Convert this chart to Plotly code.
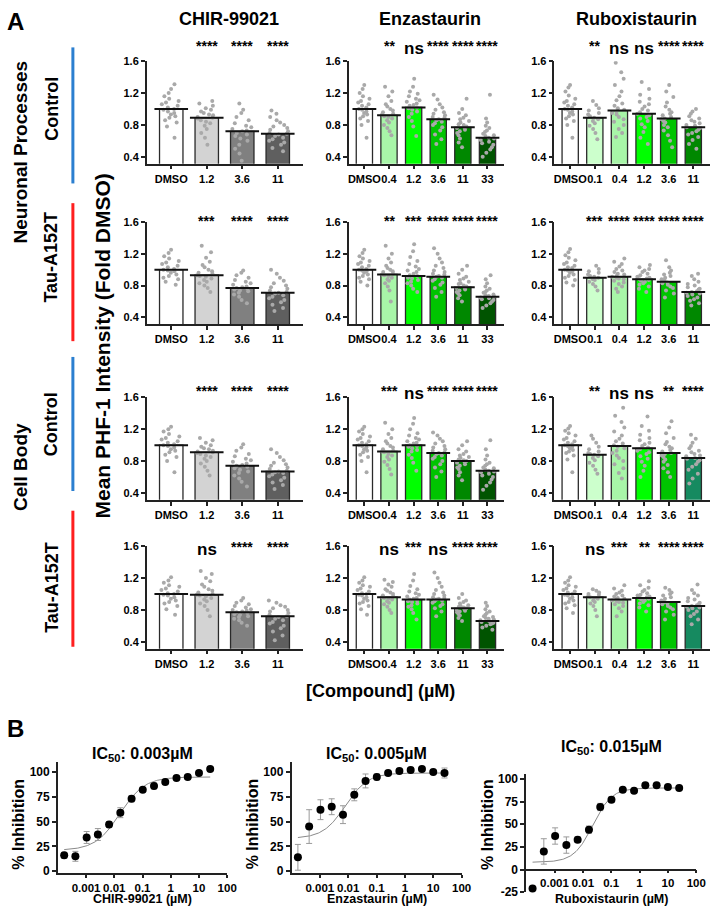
import numpy as np
import plotly.graph_objects as go

W, H = 722, 914
FONT = "Liberation Sans"

# ---------------- Panel A data ----------------
compounds = ["CHIR-99021", "Enzastaurin", "Ruboxistaurin"]
dose_labels = [
    ["DMSO", "1.2", "3.6", "11"],
    ["DMSO", "0.4", "1.2", "3.6", "11", "33"],
    ["DMSO", "0.1", "0.4", "1.2", "3.6", "11"],
]
row_labels = ["Control", "Tau-A152T", "Control", "Tau-A152T"]

# bar heights (mean, fold DMSO): one list per compound, per row
mean_np_ctrl = [[1.0, 0.89, 0.72, 0.69],
                [1.0, 0.92, 1.02, 0.87, 0.77, 0.64],
                [1.0, 0.89, 0.98, 0.94, 0.88, 0.77]]
mean_np_tau = [[1.0, 0.93, 0.77, 0.71],
               [1.0, 0.94, 0.92, 0.91, 0.78, 0.66],
               [1.0, 0.90, 0.91, 0.88, 0.85, 0.72]]
mean_cb_ctrl = [[1.0, 0.91, 0.74, 0.67],
                [1.0, 0.92, 1.0, 0.90, 0.80, 0.68],
                [1.0, 0.88, 0.99, 0.96, 0.90, 0.84]]
mean_cb_tau = [[1.0, 0.99, 0.77, 0.72],
               [1.0, 0.96, 0.93, 0.93, 0.82, 0.66],
               [1.0, 0.96, 0.93, 0.95, 0.90, 0.85]]

# significance vs DMSO
sig_np_ctrl = [["****", "****", "****"],
               ["**", "ns", "****", "****", "****"],
               ["**", "ns", "ns", "****", "****"]]
sig_np_tau = [["***", "****", "****"],
              ["**", "***", "****", "****", "****"],
              ["***", "****", "****", "****", "****"]]
sig_cb_ctrl = [["****", "****", "****"],
               ["***", "ns", "****", "****", "****"],
               ["**", "ns", "ns", "**", "****"]]
sig_cb_tau = [["ns", "****", "****"],
              ["ns", "***", "ns", "****", "****"],
              ["ns", "***", "**", "****", "****"]]

# individual well values (estimated from the dot clouds)
pts_np_ctrl = [
    [[0.64, 0.78, 0.83, 0.86, 0.89, 0.91, 0.93, 0.95, 0.97, 0.99, 1.0, 1.02, 1.04, 1.06, 1.08, 1.1, 1.13, 1.16, 1.2, 1.25, 1.31],
     [0.55, 0.64, 0.7, 0.75, 0.79, 0.82, 0.84, 0.86, 0.88, 0.89, 0.9, 0.92, 0.93, 0.95, 0.97, 0.99, 1.01, 1.04, 1.07, 1.1],
     [0.35, 0.44, 0.5, 0.55, 0.6, 0.63, 0.66, 0.68, 0.7, 0.72, 0.73, 0.75, 0.77, 0.79, 0.82, 0.86, 0.9, 0.95, 0.99, 1.07],
     [0.47, 0.51, 0.55, 0.58, 0.6, 0.62, 0.64, 0.66, 0.68, 0.69, 0.7, 0.72, 0.74, 0.76, 0.78, 0.8, 0.83, 0.86, 0.9, 0.94, 0.98]],
    [[0.64, 0.8, 0.85, 0.88, 0.91, 0.93, 0.95, 0.97, 0.99, 1.0, 1.02, 1.04, 1.06, 1.08, 1.1, 1.13, 1.16, 1.2, 1.25, 1.3],
     [0.67, 0.72, 0.76, 0.8, 0.83, 0.86, 0.88, 0.9, 0.91, 0.93, 0.94, 0.96, 0.98, 1.0, 1.03, 1.06, 1.1, 1.16, 1.22, 1.28],
     [0.66, 0.78, 0.85, 0.9, 0.94, 0.97, 0.99, 1.01, 1.02, 1.04, 1.05, 1.07, 1.09, 1.11, 1.13, 1.16, 1.19, 1.22, 1.28, 1.38],
     [0.56, 0.62, 0.68, 0.73, 0.77, 0.8, 0.82, 0.84, 0.86, 0.87, 0.89, 0.9, 0.92, 0.94, 0.96, 0.99, 1.02, 1.06, 1.12, 1.18],
     [0.52, 0.58, 0.63, 0.67, 0.7, 0.72, 0.74, 0.76, 0.77, 0.78, 0.8, 0.81, 0.83, 0.85, 0.87, 0.89, 0.92, 0.95, 1.0, 1.13],
     [0.4, 0.45, 0.49, 0.52, 0.55, 0.57, 0.59, 0.61, 0.63, 0.64, 0.66, 0.67, 0.69, 0.71, 0.73, 0.76, 0.79, 0.83, 0.88, 1.18]],
    [[0.64, 0.8, 0.85, 0.88, 0.91, 0.93, 0.95, 0.97, 0.99, 1.0, 1.02, 1.04, 1.06, 1.08, 1.1, 1.13, 1.17, 1.22, 1.27, 1.3],
     [0.62, 0.7, 0.75, 0.79, 0.82, 0.85, 0.87, 0.89, 0.91, 0.93, 0.95, 0.98, 1.01, 1.05, 1.1],
     [0.65, 0.7, 0.75, 0.8, 0.84, 0.87, 0.9, 0.93, 0.95, 0.97, 0.99, 1.01, 1.04, 1.07, 1.11, 1.16, 1.22, 1.3, 1.38, 1.46, 1.58],
     [0.56, 0.64, 0.71, 0.77, 0.81, 0.85, 0.88, 0.9, 0.92, 0.94, 0.96, 0.98, 1.0, 1.03, 1.06, 1.09, 1.13, 1.18, 1.25, 1.34],
     [0.52, 0.6, 0.67, 0.73, 0.77, 0.8, 0.83, 0.85, 0.87, 0.88, 0.9, 0.92, 0.94, 0.96, 0.99, 1.03, 1.08, 1.15, 1.22, 1.3],
     [0.5, 0.56, 0.61, 0.65, 0.68, 0.7, 0.72, 0.74, 0.76, 0.77, 0.79, 0.8, 0.82, 0.84, 0.86, 0.88, 0.91, 0.94, 0.97, 1.0]],
]
pts_np_tau = [
    [[0.81, 0.85, 0.88, 0.9, 0.92, 0.94, 0.96, 0.98, 0.99, 1.0, 1.01, 1.03, 1.05, 1.07, 1.09, 1.11, 1.14, 1.17, 1.21, 1.25],
     [0.72, 0.77, 0.8, 0.83, 0.85, 0.87, 0.89, 0.91, 0.92, 0.93, 0.95, 0.96, 0.98, 1.0, 1.03, 1.06, 1.1, 1.15, 1.22, 1.3],
     [0.58, 0.62, 0.66, 0.69, 0.71, 0.73, 0.74, 0.75, 0.76, 0.77, 0.78, 0.79, 0.81, 0.83, 0.85, 0.87, 0.9, 0.93, 0.96, 0.99],
     [0.48, 0.52, 0.56, 0.59, 0.62, 0.64, 0.66, 0.68, 0.7, 0.71, 0.72, 0.74, 0.76, 0.78, 0.8, 0.83, 0.86, 0.9, 0.95, 1.0]],
    [[0.8, 0.85, 0.88, 0.9, 0.92, 0.94, 0.96, 0.98, 0.99, 1.0, 1.01, 1.03, 1.05, 1.07, 1.09, 1.11, 1.14, 1.17, 1.21, 1.25],
     [0.6, 0.74, 0.79, 0.83, 0.86, 0.88, 0.9, 0.92, 0.93, 0.94, 0.95, 0.97, 0.98, 1.0, 1.02, 1.05, 1.09, 1.14, 1.2, 1.3],
     [0.72, 0.76, 0.8, 0.83, 0.85, 0.87, 0.89, 0.9, 0.92, 0.93, 0.95, 0.97, 0.99, 1.01, 1.04, 1.07, 1.11, 1.16, 1.23, 1.32],
     [0.66, 0.72, 0.77, 0.81, 0.84, 0.86, 0.88, 0.9, 0.91, 0.92, 0.94, 0.95, 0.97, 0.99, 1.02, 1.05, 1.09, 1.14, 1.2, 1.27],
     [0.6, 0.64, 0.68, 0.7, 0.72, 0.74, 0.75, 0.77, 0.78, 0.79, 0.8, 0.82, 0.83, 0.85, 0.87, 0.89, 0.91, 0.95, 1.0, 1.05],
     [0.52, 0.55, 0.58, 0.6, 0.62, 0.63, 0.64, 0.65, 0.66, 0.67, 0.68, 0.69, 0.71, 0.72, 0.74, 0.76, 0.79, 0.83, 0.88, 0.93]],
    [[0.8, 0.84, 0.87, 0.9, 0.92, 0.94, 0.96, 0.98, 0.99, 1.0, 1.02, 1.03, 1.05, 1.07, 1.09, 1.12, 1.15, 1.18, 1.22, 1.26],
     [0.74, 0.79, 0.82, 0.85, 0.87, 0.88, 0.9, 0.91, 0.92, 0.94, 0.96, 0.98, 1.01, 1.05],
     [0.72, 0.76, 0.79, 0.82, 0.84, 0.86, 0.88, 0.89, 0.9, 0.91, 0.92, 0.94, 0.95, 0.97, 0.99, 1.01, 1.04, 1.07, 1.1, 1.14],
     [0.72, 0.76, 0.79, 0.81, 0.83, 0.85, 0.86, 0.87, 0.88, 0.89, 0.9, 0.91, 0.93, 0.95, 0.97, 0.99, 1.01, 1.03, 1.06],
     [0.65, 0.7, 0.74, 0.77, 0.79, 0.81, 0.83, 0.84, 0.85, 0.86, 0.87, 0.88, 0.9, 0.92, 0.94, 0.96, 0.99, 1.03, 1.12],
     [0.55, 0.58, 0.61, 0.63, 0.65, 0.67, 0.69, 0.7, 0.71, 0.72, 0.73, 0.75, 0.76, 0.78, 0.8, 0.82, 0.85, 0.88, 0.92, 0.95]],
]
pts_cb_ctrl = [
    [[0.66, 0.8, 0.85, 0.88, 0.91, 0.93, 0.95, 0.97, 0.99, 1.0, 1.01, 1.03, 1.05, 1.07, 1.09, 1.11, 1.14, 1.17, 1.2, 1.23],
     [0.62, 0.68, 0.73, 0.77, 0.8, 0.83, 0.85, 0.87, 0.89, 0.9, 0.91, 0.92, 0.93, 0.95, 0.96, 0.98, 1.0, 1.03, 1.06, 1.09],
     [0.48, 0.54, 0.58, 0.62, 0.65, 0.67, 0.69, 0.71, 0.73, 0.74, 0.75, 0.77, 0.79, 0.81, 0.83, 0.86, 0.89, 0.93, 0.97, 1.01],
     [0.45, 0.5, 0.53, 0.56, 0.59, 0.61, 0.63, 0.65, 0.66, 0.67, 0.68, 0.7, 0.72, 0.74, 0.76, 0.78, 0.81, 0.85, 0.9, 0.95]],
    [[0.66, 0.8, 0.85, 0.88, 0.91, 0.93, 0.95, 0.97, 0.99, 1.0, 1.01, 1.03, 1.05, 1.07, 1.09, 1.11, 1.14, 1.17, 1.2, 1.23],
     [0.63, 0.7, 0.75, 0.79, 0.82, 0.85, 0.87, 0.89, 0.91, 0.92, 0.93, 0.95, 0.97, 0.99, 1.02, 1.05, 1.09, 1.14, 1.2, 1.28],
     [0.68, 0.78, 0.84, 0.88, 0.92, 0.94, 0.96, 0.98, 0.99, 1.0, 1.02, 1.03, 1.05, 1.07, 1.09, 1.12, 1.15, 1.2, 1.27, 1.34],
     [0.6, 0.67, 0.72, 0.76, 0.8, 0.83, 0.85, 0.87, 0.89, 0.9, 0.91, 0.93, 0.95, 0.97, 0.99, 1.02, 1.05, 1.08, 1.12, 1.16],
     [0.56, 0.62, 0.66, 0.7, 0.72, 0.74, 0.76, 0.78, 0.79, 0.8, 0.81, 0.82, 0.84, 0.85, 0.87, 0.89, 0.92, 0.95, 1.0, 1.05],
     [0.44, 0.49, 0.53, 0.57, 0.6, 0.62, 0.64, 0.66, 0.67, 0.68, 0.69, 0.71, 0.72, 0.74, 0.76, 0.78, 0.82, 0.87, 0.95, 1.06]],
    [[0.66, 0.82, 0.87, 0.9, 0.92, 0.94, 0.96, 0.98, 0.99, 1.0, 1.01, 1.03, 1.05, 1.07, 1.09, 1.12, 1.15, 1.18, 1.21, 1.24],
     [0.64, 0.69, 0.74, 0.78, 0.81, 0.84, 0.86, 0.88, 0.89, 0.9, 0.92, 0.95, 0.98, 1.03, 1.08, 1.12],
     [0.58, 0.65, 0.71, 0.76, 0.8, 0.84, 0.87, 0.9, 0.93, 0.96, 0.98, 1.0, 1.02, 1.05, 1.08, 1.12, 1.17, 1.22, 1.29, 1.37, 1.47],
     [0.6, 0.68, 0.74, 0.79, 0.83, 0.86, 0.89, 0.91, 0.93, 0.95, 0.97, 0.99, 1.01, 1.03, 1.06, 1.09, 1.13, 1.18, 1.24, 1.36],
     [0.6, 0.66, 0.71, 0.75, 0.79, 0.82, 0.85, 0.87, 0.89, 0.9, 0.92, 0.94, 0.96, 0.98, 1.01, 1.04, 1.09, 1.15, 1.22, 1.3],
     [0.52, 0.58, 0.64, 0.69, 0.73, 0.76, 0.79, 0.81, 0.83, 0.84, 0.86, 0.87, 0.89, 0.91, 0.93, 0.96, 0.99, 1.03, 1.08, 1.13]],
]
pts_cb_tau = [
    [[0.74, 0.81, 0.85, 0.88, 0.9, 0.92, 0.94, 0.96, 0.98, 0.99, 1.0, 1.01, 1.03, 1.05, 1.07, 1.09, 1.11, 1.14, 1.17, 1.21],
     [0.72, 0.8, 0.85, 0.88, 0.91, 0.93, 0.95, 0.97, 0.98, 0.99, 1.0, 1.02, 1.04, 1.06, 1.09, 1.12, 1.16, 1.2, 1.25, 1.29],
     [0.6, 0.64, 0.67, 0.69, 0.71, 0.72, 0.74, 0.75, 0.76, 0.77, 0.78, 0.79, 0.8, 0.81, 0.83, 0.85, 0.87, 0.89, 0.92, 0.95],
     [0.42, 0.48, 0.53, 0.57, 0.6, 0.63, 0.65, 0.67, 0.69, 0.71, 0.72, 0.74, 0.76, 0.78, 0.8, 0.82, 0.84, 0.86, 0.89, 0.92]],
    [[0.74, 0.81, 0.85, 0.88, 0.9, 0.92, 0.94, 0.96, 0.98, 0.99, 1.0, 1.01, 1.03, 1.05, 1.07, 1.09, 1.11, 1.14, 1.17, 1.21],
     [0.76, 0.8, 0.84, 0.87, 0.89, 0.91, 0.93, 0.94, 0.95, 0.96, 0.97, 0.98, 1.0, 1.02, 1.04, 1.06, 1.09, 1.12, 1.15, 1.18],
     [0.68, 0.76, 0.81, 0.84, 0.86, 0.88, 0.9, 0.91, 0.92, 0.93, 0.94, 0.95, 0.97, 0.99, 1.01, 1.03, 1.06, 1.1, 1.17, 1.25],
     [0.72, 0.78, 0.82, 0.85, 0.87, 0.89, 0.91, 0.92, 0.93, 0.94, 0.95, 0.96, 0.98, 1.0, 1.02, 1.05, 1.09, 1.14, 1.2, 1.27],
     [0.66, 0.7, 0.73, 0.75, 0.77, 0.78, 0.79, 0.8, 0.81, 0.82, 0.83, 0.84, 0.85, 0.86, 0.88, 0.9, 0.92, 0.95, 1.0],
     [0.55, 0.58, 0.6, 0.62, 0.63, 0.64, 0.65, 0.66, 0.67, 0.68, 0.69, 0.7, 0.71, 0.72, 0.74, 0.76, 0.78, 0.81, 0.85, 0.89]],
    [[0.76, 0.82, 0.86, 0.88, 0.9, 0.92, 0.94, 0.96, 0.98, 0.99, 1.0, 1.02, 1.03, 1.05, 1.07, 1.09, 1.11, 1.14, 1.17, 1.21],
     [0.72, 0.8, 0.85, 0.88, 0.9, 0.92, 0.94, 0.95, 0.96, 0.97, 0.99, 1.0, 1.02, 1.04, 1.06],
     [0.72, 0.78, 0.82, 0.85, 0.87, 0.89, 0.9, 0.91, 0.92, 0.93, 0.94, 0.95, 0.97, 0.98, 1.0, 1.02, 1.04, 1.07, 1.11],
     [0.78, 0.83, 0.86, 0.88, 0.9, 0.92, 0.93, 0.94, 0.95, 0.96, 0.97, 0.98, 0.99, 1.01, 1.03, 1.05, 1.08, 1.11, 1.16],
     [0.68, 0.74, 0.78, 0.81, 0.83, 0.85, 0.87, 0.88, 0.89, 0.9, 0.91, 0.92, 0.94, 0.96, 0.98, 1.0, 1.02, 1.05, 1.08],
     [0.62, 0.68, 0.72, 0.75, 0.78, 0.8, 0.82, 0.83, 0.84, 0.85, 0.86, 0.87, 0.89, 0.91, 0.93, 0.95, 0.98, 1.01, 1.05, 1.12]],
]

bar_colors = [
    ["#ffffff", "#d3d3d3", "#808080", "#5f5f5f"],
    ["#ffffff", "#a8f5a8", "#00ff00", "#00c400", "#008800", "#005400"],
    ["#ffffff", "#ccffcc", "#a8f5a8", "#00ff00", "#00c400", "#008800"],
]
teal_last = "#168a60"  # last Ruboxistaurin bar in the Cell Body rows

# ---------------- Panel B data ----------------
conc_um = [0.000168, 0.000419, 0.00105, 0.00262, 0.00655, 0.0164, 0.041,
           0.102, 0.256, 0.64, 1.6, 4, 10, 25]
inh_chir = [16, 15, 34, 37, 47, 59, 73, 82, 86, 90, 94, 95, 99, 103]
err_chir = [3, 5, 6, 6, 3, 5, 3, 2, 3, 2, 2, 2, 2, 2]
inh_enza = [14, 45, 62, 65, 57, 77, 91, 95, 99, 101, 102, 103, 100, 99]
err_enza = [13, 17, 10, 8, 9, 6, 7, 3, 2, 2, 2, 2, 2, 5]
inh_rubo = [-21, 20, 37, 27, 33, 44, 69, 77, 88, 87, 93, 93, 91, 90]
err_rubo = [2, 14, 9, 9, 3, 4, 4, 3, 2, 2, 2, 2, 2, 2]
# 4-parameter logistic fits: bottom, top, logIC50 (µM), hill
fit_chir = [21, 95, -1.8, 1.0]
fit_enza = [33, 99, -2.1, 1.1]
fit_rubo = [8, 90, -1.65, 1.3]
ic50_text = ["0.003", "0.005", "0.015"]
x_titles = ["CHIR-99021 (µM)", "Enzastaurin (µM)", "Ruboxistaurin (µM)"]

# ---------------- helpers ----------------
def fx(p):
    return p / W


def fy(p):
    return 1 - p / H


def ax_ref(n):
    return ("x" if n == 1 else f"x{n}"), ("y" if n == 1 else f"y{n}")


def ax_key(kind, n):
    return f"{kind}axis" if n == 1 else f"{kind}axis{n}"


def bold(size):
    return dict(family=FONT, size=size, color="black", weight="bold")


def label(x, y, text, size, angle=0):
    return dict(x=fx(x), y=fy(y), xref="paper", yref="paper", text=f"<b>{text}</b>",
                showarrow=False, font=bold(size), textangle=angle,
                xanchor="center", yanchor="middle")


axis_common = dict(showline=True, linecolor="#222", linewidth=1.5, ticks="outside",
                   ticklen=4, tickwidth=1.5, tickcolor="#222", showgrid=False,
                   zeroline=False, tickangle=0, fixedrange=True)

fig = go.Figure()
layout = {}
ann = []

# ---------------- Panel A ----------------
col_px = [(148, 307), (353, 511), (562, 720)]
col_rng = [[-0.69, 3.72], [-0.64, 5.68], [-0.64, 5.68]]
row_top = [56, 219, 397, 548]
star_px = [41, 218, 391, 549]
ns_px = [43, 219, 393, 551]
bar_px_w = [24, 17, 17]

all_means = [mean_np_ctrl, mean_np_tau, mean_cb_ctrl, mean_cb_tau]
all_sig = [sig_np_ctrl, sig_np_tau, sig_cb_ctrl, sig_cb_tau]
all_pts = [pts_np_ctrl, pts_np_tau, pts_cb_ctrl, pts_cb_tau]

for r in range(4):
    for c in range(3):
        n = r * 3 + c + 1
        xa, ya = ax_ref(n)
        m = all_means[r][c]
        idx = list(range(len(m)))
        colors = list(bar_colors[c])
        if c == 2 and r >= 2:
            colors[-1] = teal_last
        fig.add_trace(go.Bar(x=idx, y=m, width=0.66, xaxis=xa, yaxis=ya,
                             marker=dict(color=colors, line=dict(color="#2a2a2a", width=1.3)),
                             showlegend=False, hoverinfo="skip"))
        xs, ys = [], []
        for i, vals in enumerate(all_pts[r][c]):
            xs += [i] * len(vals)
            ys += vals
        fig.add_trace(go.Box(x=xs, y=ys, xaxis=xa, yaxis=ya, boxpoints="all",
                             jitter=1.0, pointpos=0, width=0.6,
                             fillcolor="rgba(0,0,0,0)",
                             line=dict(color="rgba(0,0,0,0)", width=0),
                             marker=dict(size=4, color="#a9a9a9"),
                             showlegend=False, hoverinfo="skip"))
        fig.add_trace(go.Scatter(x=idx, y=m, xaxis=xa, yaxis=ya, mode="markers",
                                 marker=dict(symbol="line-ew", size=bar_px_w[c],
                                             line=dict(color="#111", width=2)),
                                 showlegend=False, hoverinfo="skip"))
        top = row_top[r]
        layout[ax_key("x", n)] = dict(axis_common, domain=[fx(col_px[c][0]), fx(col_px[c][1])],
                                      range=col_rng[c], anchor=ya, tickvals=idx,
                                      ticktext=dose_labels[c], tickfont=bold(11))
        layout[ax_key("y", n)] = dict(axis_common, domain=[fy(top + 104), fy(top)],
                                      range=[0.313, 1.6], anchor=xa,
                                      tickvals=[0.4, 0.8, 1.2, 1.6],
                                      ticktext=["0.4", "0.8", "1.2", "1.6"], tickfont=bold(11))
        for i, s in enumerate(all_sig[r][c]):
            is_ns = s == "ns"
            ann.append(dict(x=i + 1, xref=xa, y=fy(ns_px[r] if is_ns else star_px[r]), yref="paper",
                            text=f"<b>{s}</b>", showarrow=False, font=bold(17 if is_ns else 14),
                            xanchor="center", yanchor="middle"))

# column titles
for c, name in enumerate(compounds):
    ann.append(label((col_px[c][0] + col_px[c][1]) / 2 + 4, 13, name, 18))

# row labels and coloured bars
line_spans = [(42, 180), (200, 340), (356, 492), (512, 650)]
line_cols = ["#2b7fd0", "#ff1f1f", "#2b7fd0", "#ff1f1f"]
row_label_y = [104, 255, 424, 590]
shapes = []
for r in range(4):
    y0, y1 = line_spans[r]
    shapes.append(dict(type="line", xref="paper", yref="paper", x0=fx(73), x1=fx(73),
                       y0=fy(y0), y1=fy(y1), line=dict(color=line_cols[r], width=3)))
    ann.append(label(51, row_label_y[r], row_labels[r], 18, -90))

ann.append(label(20, 148, "Neuronal Processes", 19, -90))
ann.append(label(20, 468, "Cell Body", 19, -90))
ann.append(label(103, 345, "Mean PHF-1 Intensity (Fold DMSO)", 21, -90))
ann.append(label(385, 695, "[Compound] (µM)", 18))
ann.append(label(15, 16, "A", 24))
ann.append(label(15, 733, "B", 24))

# ---------------- Panel B ----------------
b_x = [(57.7, 229.7), (295, 467.7), (533.3, 706)]
b_y = [(767, 879.7), (767, 879.7), (779, 899)]
b_yrng = [[-2, 110], [-2, 110], [-25, 105.5]]
b_title_y = [759, 759, 752]
inh = [inh_chir, inh_enza, inh_rubo]
err = [err_chir, err_enza, err_rubo]
fits = [fit_chir, fit_enza, fit_rubo]

for k in range(3):
    n = 13 + k
    xa, ya = ax_ref(n)
    bottom, topv, logic, hill = fits[k]
    xc = np.logspace(np.log10(conc_um[0]), np.log10(conc_um[-1]), 200)
    yc = bottom + (topv - bottom) / (1 + 10 ** ((logic - np.log10(xc)) * hill))
    fig.add_trace(go.Scatter(x=xc, y=yc, xaxis=xa, yaxis=ya, mode="lines",
                             line=dict(color="#8a8a8a", width=1), showlegend=False,
                             hoverinfo="skip"))
    fig.add_trace(go.Scatter(x=conc_um, y=inh[k], xaxis=xa, yaxis=ya, mode="markers",
                             marker=dict(size=8, color="black"),
                             error_y=dict(type="data", array=err[k], color="#9a9a9a",
                                          thickness=1, width=3),
                             cliponaxis=False, showlegend=False, hoverinfo="skip"))
    xax = dict(axis_common, type="log", domain=[fx(b_x[k][0]), fx(b_x[k][1])], range=[-4, 2],
               tickvals=[0.001, 0.01, 0.1, 1, 10, 100], ticklen=3,
               ticktext=["0.001", "0.01", "0.1", "1", "10", "100"], tickfont=bold(11.5))
    if k == 2:
        xax.update(anchor="free", position=fy(876))
    else:
        xax.update(anchor=ya)
    layout[ax_key("x", n)] = xax
    yt = [0, 25, 50, 75, 100] if k < 2 else [-25, 0, 25, 50, 75, 100]
    layout[ax_key("y", n)] = dict(axis_common, domain=[fy(b_y[k][1]), fy(b_y[k][0])],
                                  range=b_yrng[k], anchor=xa, tickvals=yt,
                                  ticktext=[str(v) for v in yt], tickfont=bold(12))
    mid = (b_x[k][0] + b_x[k][1]) / 2
    ann.append(label(mid, b_title_y[k], f"IC<sub>50</sub>: {ic50_text[k]}µM", 16))
    ann.append(label(mid, 906, x_titles[k], 12.5))
    ann.append(label(b_x[k][0] - 40, 830, "% Inhibition", 16, -90))

fig.update_layout(width=W, height=H, margin=dict(l=0, r=0, t=0, b=0),
                  plot_bgcolor="white", paper_bgcolor="white", barmode="overlay",
                  boxmode="overlay", annotations=ann, shapes=shapes,
                  font=dict(family=FONT, color="black"), **layout)

fig.write_html("out.html", config={"displayModeBar": False},
               post_script="document.body.style.margin='0px';")
